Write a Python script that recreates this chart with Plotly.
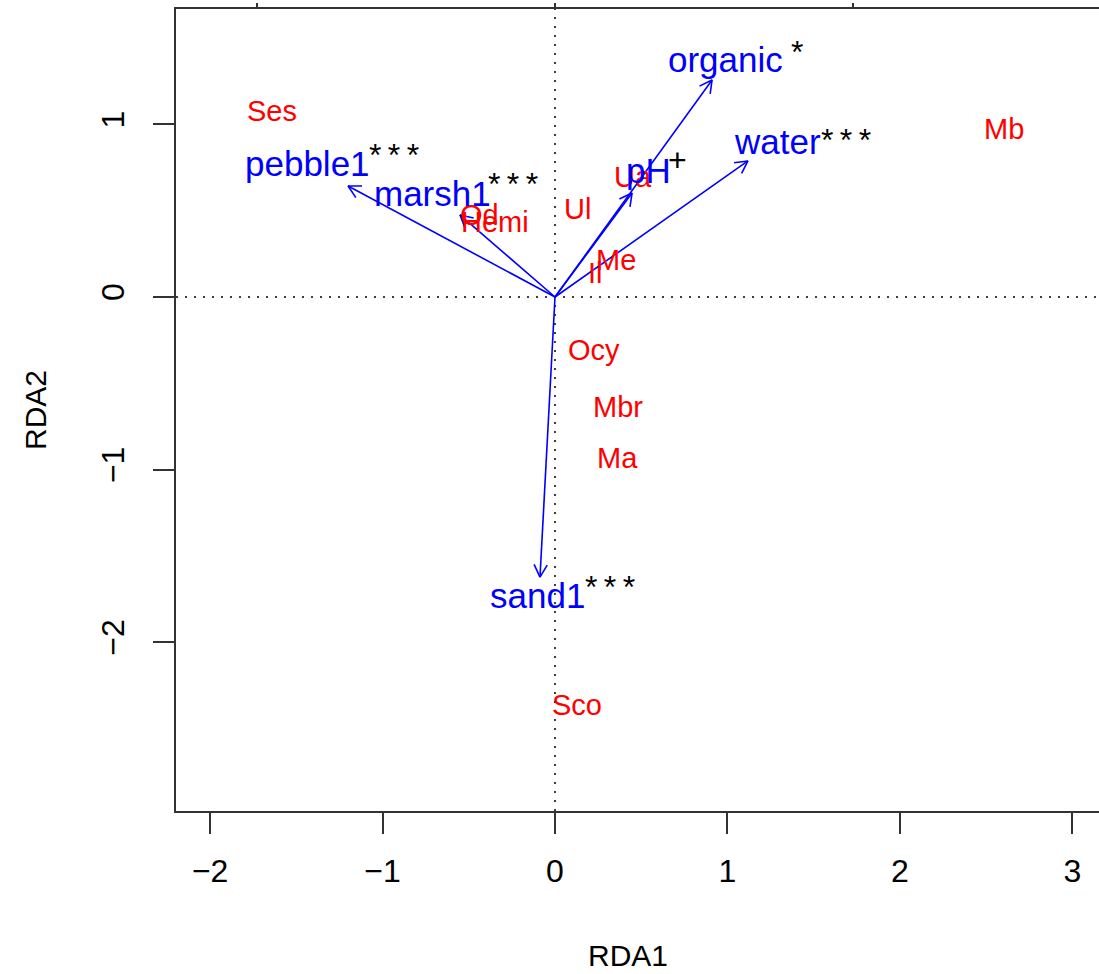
import math
import plotly.graph_objects as go

# ---------------- data ----------------
species = ["Ses", "Mb", "Ua", "Ul", "Od", "Hemi", "Me", "Il", "Ocy", "Mbr", "Ma", "Sco"]
sp_x = [-1.642, 2.604, 0.455, 0.133, -0.435, -0.348, 0.354, 0.232, 0.226, 0.365, 0.360, 0.128]
sp_y = [1.077, 0.973, 0.695, 0.510, 0.475, 0.434, 0.214, 0.139, -0.307, -0.637, -0.932, -2.363]

env = ["organic", "water", "pH", "pebble1", "marsh1", "sand1"]
arrow_x = [0.911, 1.119, 0.447, -1.200, -0.551, -0.087]
arrow_y = [1.257, 0.788, 0.602, 0.643, 0.475, -1.622]
label_x = [0.989, 1.288, 0.545, -1.438, -0.713, -0.104]
label_y = [1.378, 0.903, 0.730, 0.776, 0.597, -1.730]
signif = ["*", "*\u2009*\u2009*", "+", "*\u2009*\u2009*", "*\u2009*\u2009*", "*\u2009*\u2009*"]
sig_x = [1.404, 1.688, 0.708, -0.934, -0.244, 0.319]
sig_y = [1.420, 0.911, 0.793, 0.824, 0.656, -1.678]

x_ticks = [-2, -1, 0, 1, 2, 3]
y_ticks = [-2, -1, 0, 1]
top_ticks = [-1, 0, 1]

# ---------------- layout constants ----------------
W, H = 1099, 974
ML, MR, MT, MB = 176, 0, 9, 163
xr = [-2.198, 3.155]
yr = [-2.977, 1.668]
pw, ph = W - ML - MR, H - MT - MB
sx = pw / (xr[1] - xr[0])
sy = ph / (yr[1] - yr[0])
top_scale = 298.0 / sx  # ratio of species-scale axis

FONT = "Liberation Sans, Arial, sans-serif"
BLUE = "#0000FF"
RED = "#FF0000"

fig = go.Figure()

# arrows (shafts + open heads)
hx, hy = [], []
L = 14.0
for ax_, ay_ in zip(arrow_x, arrow_y):
    hx += [0, ax_, None]
    hy += [0, ay_, None]
    ang = math.atan2(ay_ * sy, ax_ * sx)
    a1 = ang + math.pi + math.radians(28)
    a2 = ang + math.pi - math.radians(28)
    hx += [ax_ + L * math.cos(a1) / sx, ax_, ax_ + L * math.cos(a2) / sx, None]
    hy += [ay_ + L * math.sin(a1) / sy, ay_, ay_ + L * math.sin(a2) / sy, None]

fig.add_trace(go.Scatter(x=hx, y=hy, mode="lines",
                         line=dict(color=BLUE, width=1.6), hoverinfo="skip",
                         showlegend=False))

# invisible trace for top axis
fig.add_trace(go.Scatter(x=[0], y=[0], xaxis="x2", mode="markers",
                         marker=dict(opacity=0), showlegend=False, hoverinfo="skip"))

ann = []
for n, x, y in zip(species, sp_x, sp_y):
    ann.append(dict(x=x, y=y, text=n, showarrow=False, xanchor="center", yanchor="middle",
                    font=dict(family=FONT, size=29, color=RED)))
for n, x, y in zip(env, label_x, label_y):
    ann.append(dict(x=x, y=y, text=n, showarrow=False, xanchor="center", yanchor="middle",
                    font=dict(family=FONT, size=35, color=BLUE)))
for s, x, y in zip(signif, sig_x, sig_y):
    ann.append(dict(x=x, y=y, text=s, showarrow=False, xanchor="center", yanchor="middle",
                    font=dict(family=FONT, size=32, color="black")))

# axis titles
ann.append(dict(xref="paper", yref="paper", x=(628 - ML) / pw, y=-(956 - MT - ph) / ph,
                text="RDA1", showarrow=False, xanchor="center", yanchor="middle",
                font=dict(family=FONT, size=30, color="black")))
ann.append(dict(xref="paper", yref="paper", x=-(ML - 35) / pw, y=0.5,
                text="RDA2", showarrow=False, xanchor="center", yanchor="middle",
                textangle=-90, font=dict(family=FONT, size=30, color="black")))

shapes = [
    dict(type="line", xref="x", yref="paper", x0=0, x1=0, y0=0, y1=1,
         line=dict(color="black", width=1.5, dash="2px,7px"), layer="below"),
    dict(type="line", xref="paper", yref="y", x0=0, x1=1, y0=0, y1=0,
         line=dict(color="black", width=1.5, dash="2px,7px"), layer="below"),
]

fig.update_layout(
    width=W, height=H,
    margin=dict(l=ML, r=MR, t=MT, b=MB, pad=0, autoexpand=False),
    plot_bgcolor="white", paper_bgcolor="white",
    annotations=ann, shapes=shapes, showlegend=False,
    xaxis=dict(range=xr, tickvals=x_ticks, ticktext=["\u22122", "\u22121", "0", "1", "2", "3"],
               showgrid=False, zeroline=False, showline=True, linecolor="#333333", linewidth=1.5,
               ticks="outside", ticklen=21, tickwidth=1.5, tickcolor="#333333",
               tickfont=dict(family=FONT, size=32, color="black"), ticklabelstandoff=10,
               mirror=False, automargin=False),
    xaxis2=dict(range=[xr[0] / top_scale, xr[1] / top_scale], overlaying="x", side="top",
                tickvals=top_ticks, showticklabels=False, showgrid=False, zeroline=False,
                showline=True, linecolor="#333333", linewidth=1.5, automargin=False,
                ticks="outside", ticklen=4, tickwidth=2, tickcolor="#333333"),
    yaxis=dict(range=yr, tickvals=y_ticks, ticktext=["\u22122", "\u22121", "0", "1"],
               showgrid=False, zeroline=False, showline=True, linecolor="#333333", linewidth=1.5,
               ticks="outside", ticklen=21, tickwidth=1.5, tickcolor="#333333",
               tickangle=-90, tickfont=dict(family=FONT, size=32, color="black"),
               ticklabelstandoff=16, automargin=False),
)

fig.write_html("out.html")
